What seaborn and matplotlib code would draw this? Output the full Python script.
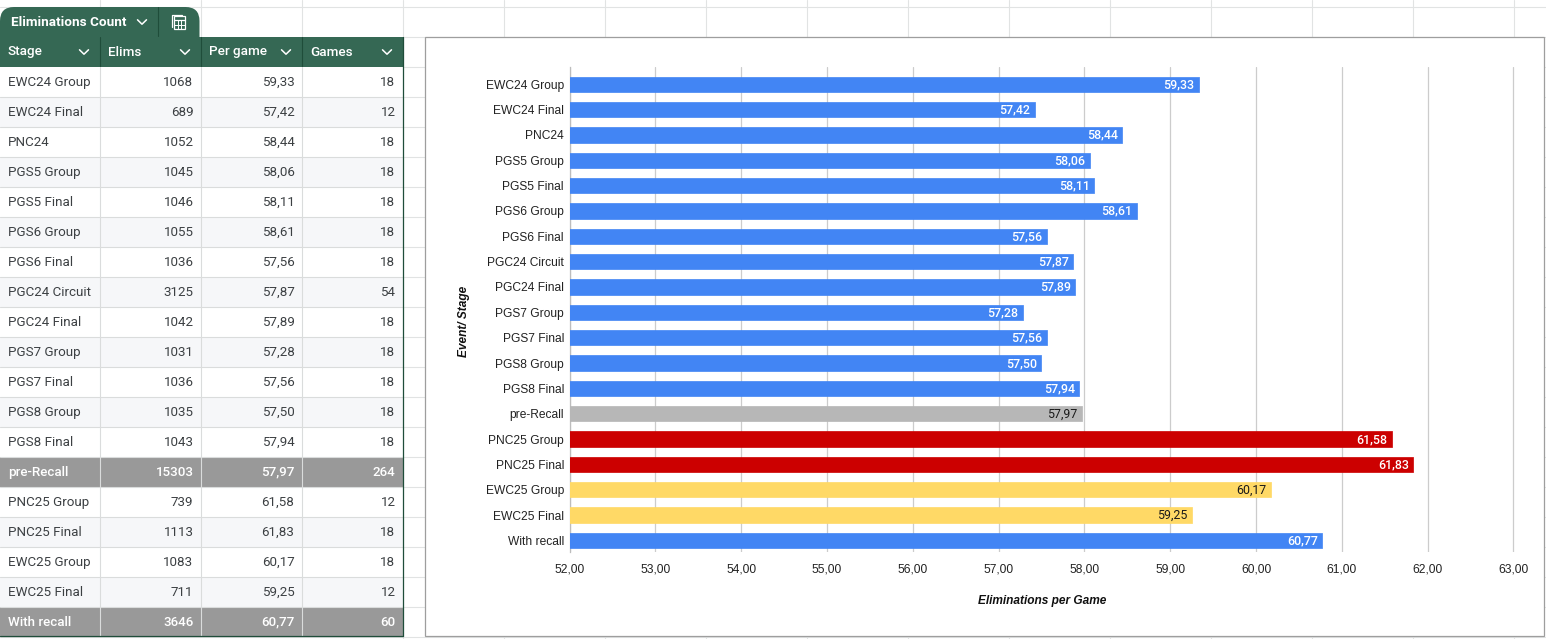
import matplotlib
matplotlib.use("Agg")
import matplotlib.pyplot as plt
import pandas as pd
import seaborn as sns
from matplotlib.patches import FancyBboxPatch, Rectangle

# values
stages = ["EWC24 Group", "EWC24 Final", "PNC24", "PGS5 Group", "PGS5 Final", "PGS6 Group",
          "PGS6 Final", "PGC24 Circuit", "PGC24 Final", "PGS7 Group", "PGS7 Final", "PGS8 Group",
          "PGS8 Final", "pre-Recall", "PNC25 Group", "PNC25 Final", "EWC25 Group", "EWC25 Final",
          "With recall"]
elims = [1068, 689, 1052, 1045, 1046, 1055, 1036, 3125, 1042, 1031, 1036, 1035, 1043, 15303,
         739, 1113, 1083, 711, 3646]
per_game = [59.33, 57.42, 58.44, 58.06, 58.11, 58.61, 57.56, 57.87, 57.89, 57.28, 57.56, 57.50,
            57.94, 57.97, 61.58, 61.83, 60.17, 59.25, 60.77]
games = [18, 12, 18, 18, 18, 18, 18, 54, 18, 18, 18, 18, 18, 264, 12, 18, 18, 12, 60]
groups = ["regular"] * 13 + ["pre"] + ["pnc"] * 2 + ["ewc"] * 2 + ["regular"]
headers = ["Stage", "Elims", "Per game", "Games"]
x_ticks = [52, 53, 54, 55, 56, 57, 58, 59, 60, 61, 62, 63]

bar_colors = {"regular": "#4285f4", "pre": "#b7b7b7", "pnc": "#cc0000", "ewc": "#ffd966"}
label_colors = {"regular": "white", "pre": "#1a1a1a", "pnc": "white", "ewc": "#1a1a1a"}
GREEN = "#356854"
DARK = "#1f4d3a"
GRID = "#e1e3e3"
TEXT = "#3c4043"
W, H = 1546, 639


def comma(v):
    return f"{v:.2f}".replace(".", ",")


sns.set_theme(style="white")
plt.rcParams["font.family"] = ["Roboto", "DejaVu Sans"]

fig = plt.figure(figsize=(W / 100, H / 100), dpi=100, facecolor="white")

# sheet layer, in pixels
bg = fig.add_axes([0, 0, 1, 1])
bg.set_xlim(0, W)
bg.set_ylim(H, 0)
bg.axis("off")

for gx in range(403, W, 101):
    bg.plot([gx, gx], [0, H], color=GRID, lw=0.8)
for gx in [100, 201, 302]:
    bg.plot([gx, gx], [0, 37], color=GRID, lw=0.8)
bg.plot([0, W], [6.5, 6.5], color=GRID, lw=0.8)
for r in range(0, 21):
    bg.plot([403, W], [36.5 + 30 * r, 36.5 + 30 * r], color=GRID, lw=0.8)

# tab on top of the table
tab = FancyBboxPatch((0, 7), 199.5, 44, boxstyle="round,pad=0,rounding_size=14", fc=GREEN, ec="none", zorder=2)
bg.add_patch(tab)
bg.add_patch(Rectangle((0, 36.5), 403.5, 30, fc=GREEN, ec="none", zorder=3))
bg.plot([158, 158], [7, 36], color=DARK, lw=0.8, zorder=4)
bg.text(11, 22, "Eliminations Count", color="white", fontsize=9.7, fontweight="bold", va="center", ha="left", zorder=4)


def chevron(cx, cy):
    bg.plot([cx - 4.5, cx, cx + 4.5], [cy - 2.2, cy + 2.2, cy - 2.2], color="white", lw=1.1, zorder=5)


chevron(142, 22)
# little calculator icon
bg.add_patch(Rectangle((174, 16), 11, 13, fc="none", ec="white", lw=0.9, zorder=5))
bg.plot([172, 172, 182], [27, 14.5, 14.5], color="white", lw=0.9, zorder=5)
bg.plot([174, 185], [20, 20], color="white", lw=0.9, zorder=5)
bg.plot([174, 185], [24.5, 24.5], color="white", lw=0.7, zorder=5)
bg.plot([177.7, 177.7], [20, 29], color="white", lw=0.7, zorder=5)
bg.plot([181.3, 181.3], [20, 29], color="white", lw=0.7, zorder=5)

# table
col_x = [0, 100, 201, 302, 403]
for c, name in enumerate(headers):
    bg.text(col_x[c] + 8, 52, name, color="white", fontsize=9.7, fontweight="medium", va="center", zorder=5)
    chevron(col_x[c + 1] - 16, 52)
    if c:
        bg.plot([col_x[c], col_x[c]], [37, 66], color=DARK, lw=0.8, zorder=5)

for i, stage in enumerate(stages):
    top = 66.5 + 30 * i
    summary = stage in ("pre-Recall", "With recall")
    fill = "#999999" if summary else ("white" if i % 2 == 0 else "#f6f7f9")
    fg = "white" if summary else TEXT
    bg.add_patch(Rectangle((0, top), 403, 30, fc=fill, ec="none", zorder=2))
    bg.plot([0, 403], [top + 30, top + 30], color="#dadcdc", lw=0.8, zorder=3)
    weight = "medium" if summary else "normal"
    mid = top + 15.9
    bg.text(8, mid, stage, color=fg, fontsize=9.6, fontweight=weight, va="center", zorder=5)
    bg.text(col_x[2] - 7.5, mid, str(elims[i]), color=fg, fontsize=9.6, fontweight=weight, va="center", ha="right", zorder=5)
    bg.text(col_x[3] - 7.5, mid, comma(per_game[i]), color=fg, fontsize=9.6, fontweight=weight, va="center", ha="right", zorder=5)
    bg.text(col_x[4] - 7.5, mid, str(games[i]), color=fg, fontsize=9.6, fontweight=weight, va="center", ha="right", zorder=5)
for cx in col_x[1:4]:
    bg.plot([cx, cx], [67, 636], color="#dadcdc", lw=0.8, zorder=4)
bg.plot([403, 403], [37, 636], color=DARK, lw=0.9, zorder=5)
bg.plot([0, 403], [636, 636], color=DARK, lw=0.9, zorder=5)

# chart card
bg.add_patch(Rectangle((425, 37), 1119, 599, fc="white", ec="#9e9e9e", lw=0.9, zorder=6))

# chart, a hair wider than 63 so the last gridline stays
ax = fig.add_axes([569.5 / W, 1 - 552.3 / H, 945.7 / W, 485 / H], zorder=5)
ax.patch.set_alpha(0)
df = pd.DataFrame({"stage": stages, "per_game": per_game, "group": groups})
sns.barplot(data=df, y="stage", x="per_game", hue="group", palette=bar_colors, dodge=False,
            width=0.6, legend=False, saturation=1, ax=ax, zorder=3)
# small round corners on the bars
for bar in ax.patches:
    bar.set_edgecolor(bar.get_facecolor())
    bar.set_linewidth(0.5)
    bar.set_joinstyle("round")
ax.set_xlim(52, 63.02)
ax.set_ylim(18.47, -0.67)
ax.set_xticks(x_ticks)
ax.set_xticklabels([comma(t) for t in x_ticks])
ax.grid(axis="x", color="#cccccc", lw=0.9, zorder=0)
ax.set_axisbelow(True)
for s in ["top", "right", "bottom"]:
    ax.spines[s].set_visible(False)
ax.spines["left"].set_color("#bdbdbd")
ax.spines["left"].set_linewidth(0.9)
ax.tick_params(axis="both", length=0, labelsize=8.65, labelcolor="#222222", pad=4)
for lab in ax.get_xticklabels() + ax.get_yticklabels():
    lab.set_fontfamily(["Liberation Sans", "DejaVu Sans"])
ax.tick_params(axis="x", pad=8)

for i, v in enumerate(per_game):
    weight = "medium" if label_colors[groups[i]] == "white" else "normal"
    ax.annotate(comma(v), (v, i), xytext=(-3.0, -0.3), textcoords="offset points", ha="right", va="center",
                color=label_colors[groups[i]], fontsize=8.9, fontweight=weight,
                family=["Roboto", "DejaVu Sans"], zorder=6)

ax.set_xlabel("Eliminations per Game", fontsize=8.6, fontweight="bold", fontstyle="italic", color="#111111",
              family=["Liberation Sans", "DejaVu Sans"], labelpad=14)
ax.xaxis.set_label_coords((1042.5 - 569.5) / 945.7, -(595 - 552.3) / 485)
ax.set_ylabel("Event/ Stage", fontsize=8.6, fontweight="bold", fontstyle="italic", color="#111111",
              family=["Liberation Sans", "DejaVu Sans"], labelpad=0)
ax.yaxis.set_label_coords((470 - 569.5) / 945.7, (552.3 - 321) / 485)

fig.savefig("out.png", dpi=100)
